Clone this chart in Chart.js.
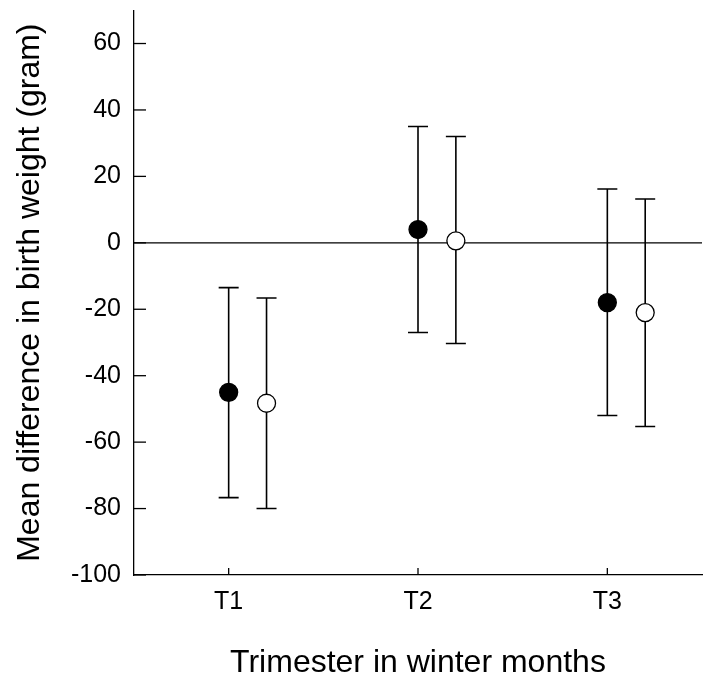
<!DOCTYPE html>
<html>
<head>
<meta charset="utf-8">
<script src="https://cdn.jsdelivr.net/npm/chart.js@4"></script>
<style>
  html, body { margin: 0; padding: 0; background: #fff; }
  #wrap { width: 714px; height: 679px; }
</style>
</head>
<body>
<div id="wrap"><canvas id="chart"></canvas></div>
<script>
// カテゴリ（妊娠三半期）
const categories = ['T1', 'T2', 'T3'];
const yTicks = [-100, -80, -60, -40, -20, 0, 20, 40, 60];

// 黒丸の系列（平均値と信頼区間）
const filledMean = [-45, 4, -18];
const filledLow = [-76.7, -27, -52];
const filledHigh = [-13.5, 35, 16.2];

// 白丸の系列
const openMean = [-48.3, 0.6, -21];
const openLow = [-80, -30.3, -55.3];
const openHigh = [-16.6, 32, 13.2];

// 白丸はカテゴリ中心から右にずらす
const openShift = 0.2;

function toPoints(mean, low, high, shift) {
    return mean.map((v, i) => ({ x: i + 1 + shift, y: v, lo: low[i], hi: high[i] }));
}

// エラーバー・0ライン・内向き目盛りの描画
const extras = {
    id: 'extras',
    beforeDatasetsDraw(chart) {
        const ctx = chart.ctx;
        const xs = chart.scales.x;
        const ys = chart.scales.y;
        const area = chart.chartArea;
        ctx.save();
        ctx.strokeStyle = '#000';
        ctx.lineWidth = 1.3;

        // 0の水平線
        const y0 = ys.getPixelForValue(0);
        ctx.beginPath();
        ctx.moveTo(area.left, y0);
        ctx.lineTo(area.right, y0);
        ctx.stroke();

        // 目盛り（内向き）
        yTicks.forEach(t => {
            const y = ys.getPixelForValue(t);
            ctx.beginPath();
            ctx.moveTo(area.left, y);
            ctx.lineTo(area.left + 12, y);
            ctx.stroke();
        });
        categories.forEach((c, i) => {
            const x = xs.getPixelForValue(i + 1);
            ctx.beginPath();
            ctx.moveTo(x, area.bottom);
            ctx.lineTo(x, area.bottom - 7);
            ctx.stroke();
        });

        // エラーバー
        ctx.lineWidth = 1.6;
        chart.data.datasets.forEach(ds => {
            ds.data.forEach(p => {
                const x = xs.getPixelForValue(p.x);
                const yl = ys.getPixelForValue(p.lo);
                const yh = ys.getPixelForValue(p.hi);
                ctx.beginPath();
                ctx.moveTo(x, yl);
                ctx.lineTo(x, yh);
                ctx.moveTo(x - 10, yl);
                ctx.lineTo(x + 10, yl);
                ctx.moveTo(x - 10, yh);
                ctx.lineTo(x + 10, yh);
                ctx.stroke();
            });
        });
        ctx.restore();
    }
};

const tickFont = { family: 'Liberation Sans, Arial, sans-serif', size: 25 };
const titleFont = { family: 'Liberation Sans, Arial, sans-serif', size: 32, lineHeight: 1.0 };

new Chart(document.getElementById('chart'), {
    type: 'scatter',
    data: {
        datasets: [
            {
                label: 'filled',
                data: toPoints(filledMean, filledLow, filledHigh, 0),
                pointRadius: 9,
                pointBackgroundColor: '#000',
                pointBorderColor: '#000',
                pointBorderWidth: 1.3
            },
            {
                label: 'open',
                data: toPoints(openMean, openLow, openHigh, openShift),
                pointRadius: 9,
                pointBackgroundColor: '#fff',
                pointBorderColor: '#000',
                pointBorderWidth: 1.3
            }
        ]
    },
    options: {
        responsive: true,
        maintainAspectRatio: false,
        animation: false,
        layout: { padding: { top: 8, right: 12, left: 0, bottom: 0 } },
        plugins: {
            legend: { display: false },
            tooltip: { enabled: false }
        },
        scales: {
            x: {
                type: 'linear',
                min: 0.5,
                max: 3.5,
                afterBuildTicks: s => { s.ticks = categories.map((c, i) => ({ value: i + 1 })); },
                afterFit: s => { s.height = 104; s.paddingLeft = 0; s.paddingRight = 0; },
                grid: { display: false, drawTicks: false },
                border: { display: true, color: '#000', width: 1.3 },
                ticks: {
                    color: '#000',
                    font: tickFont,
                    padding: 12,
                    maxRotation: 0,
                    callback: v => categories[Math.round(v) - 1] || ''
                },
                title: {
                    display: true,
                    text: 'Trimester in winter months',
                    color: '#000',
                    font: titleFont,
                    padding: { top: 0, bottom: 0 }
                }
            },
            y: {
                min: -100,
                max: 70,
                afterBuildTicks: s => { s.ticks = yTicks.map(v => ({ value: v })); },
                afterFit: s => { s.width = 134; s.paddingTop = 0; s.paddingBottom = 0; },
                grid: { display: false, drawTicks: false },
                border: { display: true, color: '#000', width: 1.3 },
                ticks: {
                    color: '#000',
                    font: tickFont,
                    padding: 13
                },
                title: {
                    display: true,
                    text: 'Mean difference in birth weight (gram)',
                    color: '#000',
                    font: titleFont,
                    padding: { top: 14, bottom: 0 }
                }
            }
        }
    },
    plugins: [extras]
});
</script>
</body>
</html>
